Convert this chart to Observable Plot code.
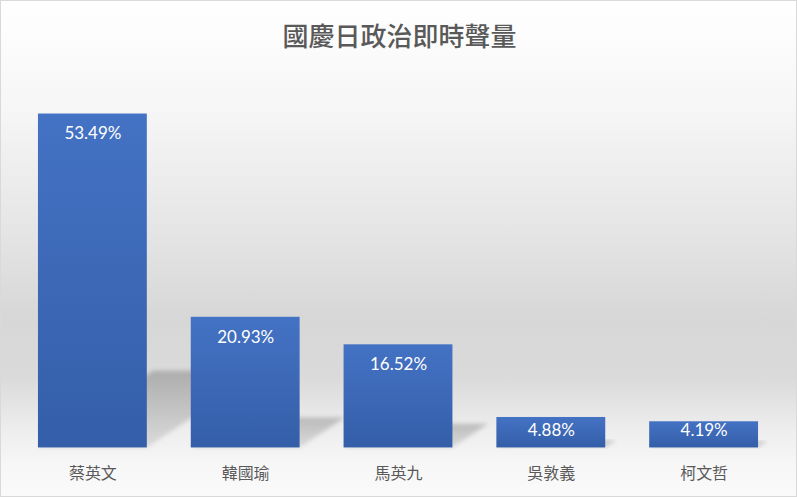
<!DOCTYPE html>
<html>
<head>
<meta charset="utf-8">
<script src="https://cdn.jsdelivr.net/npm/d3@7"></script>
<script src="https://cdn.jsdelivr.net/npm/@observablehq/plot@0.6"></script>
<style>
  html, body { margin: 0; padding: 0; background: #fff; }
  #frame {
    position: relative; width: 795px; height: 495px;
    border: 1px solid #d9d9d9;
    background: linear-gradient(to bottom, #ffffff 0%, #f6f6f6 22%, #e6e6e6 45%, #d7d7d7 64%, #dadada 76%, #eeeeee 87%, #f7f7f7 94%, #fafafa 100%);
    overflow: hidden;
  }
  #title {
    position: absolute; left: 0; top: 17px; width: 797px; text-align: center;
    font-family: "Noto Sans CJK TC", "Noto Sans", sans-serif; font-size: 26px; font-weight: 500;
    color: #595959; line-height: 34px;
  }
  #chart { position: absolute; left: -1px; top: -1px; }
  #defs { position: absolute; width: 0; height: 0; }
</style>
</head>
<body>
<svg id="defs" width="0" height="0">
  <defs>
    <linearGradient id="barGrad" x1="0" y1="0" x2="0" y2="1">
      <stop offset="0" stop-color="#4472c4"/>
      <stop offset="1" stop-color="#345ea8"/>
    </linearGradient>
    <linearGradient id="shadowGrad" x1="0" y1="0" x2="0" y2="1">
      <stop offset="0" stop-color="#000" stop-opacity="0.2"/>
      <stop offset="1" stop-color="#000" stop-opacity="0.1"/>
    </linearGradient>
    <filter id="blur" x="-20%" y="-20%" width="140%" height="140%">
      <feGaussianBlur stdDeviation="2"/>
    </filter>
  </defs>
</svg>
<div id="frame">
  <div id="title">國慶日政治即時聲量</div>
  <div id="chart"></div>
</div>
<script>
const categories = ["蔡英文", "韓國瑜", "馬英九", "吳敦義", "柯文哲"];
const shares = [53.49, 20.93, 16.52, 4.88, 4.19];
const valueLabels = ["53.49%", "20.93%", "16.52%", "4.88%", "4.19%"];

const data = categories.map((name, i) => ({name, value: shares[i], label: valueLabels[i]}));

function shadows(index, scales) {
  const x = scales.x, y = scales.y;
  const g = d3.create("svg:g");
  const bw = x.bandwidth();
  const base = y(0);
  for (const d of data) {
    const xl = x(d.name), xr = xl + bw;
    const h = base - y(d.value);
    const hh = 0.23 * h, dx = 1.5 * hh;
    g.append("path")
      .attr("d", `M${xl},${base}L${xr},${base}L${xr + dx},${base - hh}L${xl + dx},${base - hh}Z`)
      .attr("fill", "url(#shadowGrad)")
      .attr("filter", "url(#blur)");
  }
  return g.node();
}

// label sits 20px below the bar top, but stays inside short bars
const labelY = d => Math.max(d.value - 3.2, 2.85);

const plot = Plot.plot({
  width: 797,
  height: 497,
  marginTop: 73,
  marginBottom: 49,
  marginLeft: 0,
  marginRight: 0,
  style: {
    background: "transparent",
    color: "#595959",
    fontSize: "16px",
    fontFamily: "'Noto Sans CJK TC', 'Noto Sans', sans-serif"
  },
  x: {domain: categories, paddingInner: 0.29, paddingOuter: 0.24, tickSize: 0, tickPadding: 20, label: null},
  y: {domain: [0, 60], axis: null},
  marks: [
    shadows,
    Plot.barY(data, {x: "name", y: "value", fill: "url(#barGrad)"}),
    Plot.text(data, {x: "name", y: labelY, text: "label", fill: "white", fontSize: 17, fontFamily: "Lato, 'Open Sans', sans-serif"})
  ]
});
document.getElementById("chart").appendChild(plot);
</script>
</body>
</html>
